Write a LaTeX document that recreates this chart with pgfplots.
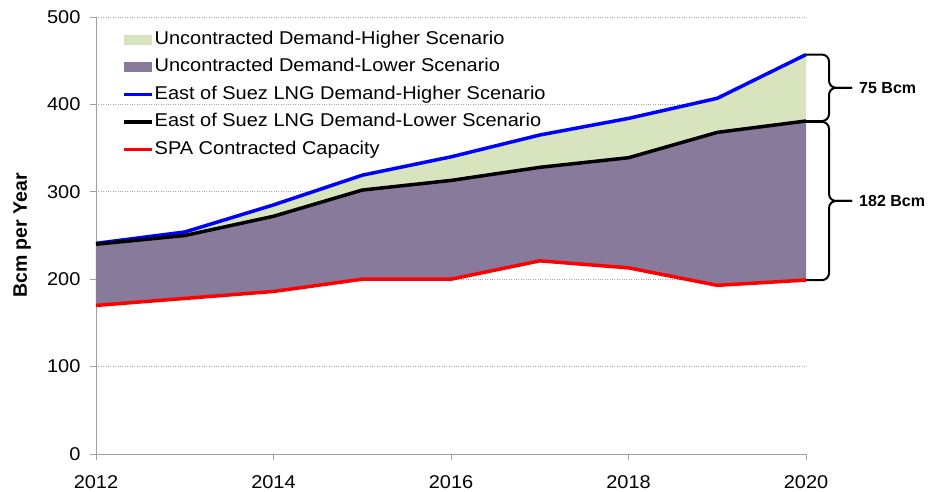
\documentclass[border=0pt]{standalone}
\usepackage{fontspec}
\setmainfont{Liberation Sans}[FakeStretch=1.08]
\newfontfamily\plainfont{Liberation Sans}
\usepackage{pgfplots}
\pgfplotsset{compat=1.18}
\usepgfplotslibrary{fillbetween}
\usetikzlibrary{calc}
\definecolor{hiGreen}{RGB}{215,228,189}
\definecolor{loPurple}{RGB}{136,122,155}
\definecolor{axGray}{RGB}{160,160,160}

% x = year - 2012
\pgfplotstableread{
x hi lo spa
0 241 240 170
1 254 250 178
2 285 272 186
3 319 302 200
4 340 313 200
5 365 328 221
6 384 339 213
7 407 368 193
8 457 381 199
}\demand

\begin{document}
\begin{tikzpicture}
\begin{axis}[
  width=710pt, height=437pt, scale only axis,
  xmin=0, xmax=8, ymin=0, ymax=500,
  xtick={0,2,...,8}, xticklabels={2012,2014,2016,2018,2020},
  ytick={0,100,...,500},
  /pgf/number format/assume math mode=true,
  tick label style={font=\fontsize{18.5}{21}\selectfont},
  x tick label style={yshift=-12pt},
  y tick label style={xshift=-6pt},
  axis lines=left, axis line style={axGray,-},
  tick style={axGray,line width=0.8pt}, major tick length=6pt, tick align=outside,
  ymajorgrids, grid style={gray!70,dotted,line width=0.8pt},
  ylabel={\plainfont\bfseries Bcm per Year},
  ylabel style={font=\fontsize{19.5}{22}\selectfont, at={(rel axis cs:-0.104,0.5)}, anchor=center},
  legend style={draw=none, fill=none, at={(rel axis cs:0.0366,0.969)}, anchor=north west,
    font=\fontsize{18.5}{21}\selectfont, inner sep=0pt, row sep=9.5pt,
    nodes={inner sep=1pt, text height=12.5pt, text depth=3.5pt}},
  legend cell align=left,
  clip=false,
]
\addplot[draw=none, name path=hi, forget plot] table[x=x,y=hi] {\demand};
\addplot[draw=none, name path=lo, forget plot] table[x=x,y=lo] {\demand};
\addplot[draw=none, name path=spa, forget plot] table[x=x,y=spa] {\demand};

\addplot[fill=hiGreen, draw=none, legend image code/.code={\fill[hiGreen] (0pt,-5pt) rectangle (28pt,5pt);}]
  fill between[of=hi and lo];
\addlegendentry{Uncontracted Demand-Higher Scenario}
\addplot[fill=loPurple, draw=none, legend image code/.code={\fill[loPurple] (0pt,-5pt) rectangle (28pt,5pt);}]
  fill between[of=lo and spa];
\addlegendentry{Uncontracted Demand-Lower Scenario}

\addplot[blue, line width=3.5pt, legend image code/.code={\draw[blue, line width=3.5pt] (0pt,0pt) -- (28pt,0pt);}] table[x=x,y=hi] {\demand};
\addlegendentry{East of Suez LNG Demand-Higher Scenario}
\addplot[black, line width=3.5pt, legend image code/.code={\draw[black, line width=3.5pt] (0pt,0pt) -- (28pt,0pt);}] table[x=x,y=lo] {\demand};
\addlegendentry{East of Suez LNG Demand-Lower Scenario}
\addplot[red, line width=3.5pt, legend image code/.code={\draw[red, line width=3.5pt] (0pt,0pt) -- (28pt,0pt);}] table[x=x,y=spa] {\demand};
\addlegendentry{SPA Contracted Capacity}

% braces on the right
\draw[black, line width=2pt, rounded corners=7pt]
  (axis cs:8,457) -- ($(axis cs:8,457)+(23pt,0)$) |- ($(axis cs:8,419)+(46pt,0)$);
\draw[black, line width=2pt, rounded corners=7pt]
  (axis cs:8,381) -- ($(axis cs:8,381)+(23pt,0)$) |- ($(axis cs:8,419)+(46pt,0)$);
\node[anchor=west, inner sep=0pt, font=\plainfont\fontsize{16}{18}\selectfont\bfseries] at ($(axis cs:8,419)+(53pt,0)$) {75 Bcm};
\draw[black, line width=2pt, rounded corners=7pt]
  (axis cs:8,380) -- ($(axis cs:8,380)+(23pt,0)$) |- ($(axis cs:8,289.5)+(46pt,0)$);
\draw[black, line width=2pt, rounded corners=7pt]
  (axis cs:8,199) -- ($(axis cs:8,199)+(23pt,0)$) |- ($(axis cs:8,289.5)+(46pt,0)$);
\node[anchor=west, inner sep=0pt, font=\plainfont\fontsize{16}{18}\selectfont\bfseries] at ($(axis cs:8,289.5)+(53pt,0)$) {182 Bcm};

\path (rel axis cs:-0.1352,-0.0778) rectangle (rel axis cs:1.1732,1.0389);
\end{axis}
\end{tikzpicture}
\end{document}
